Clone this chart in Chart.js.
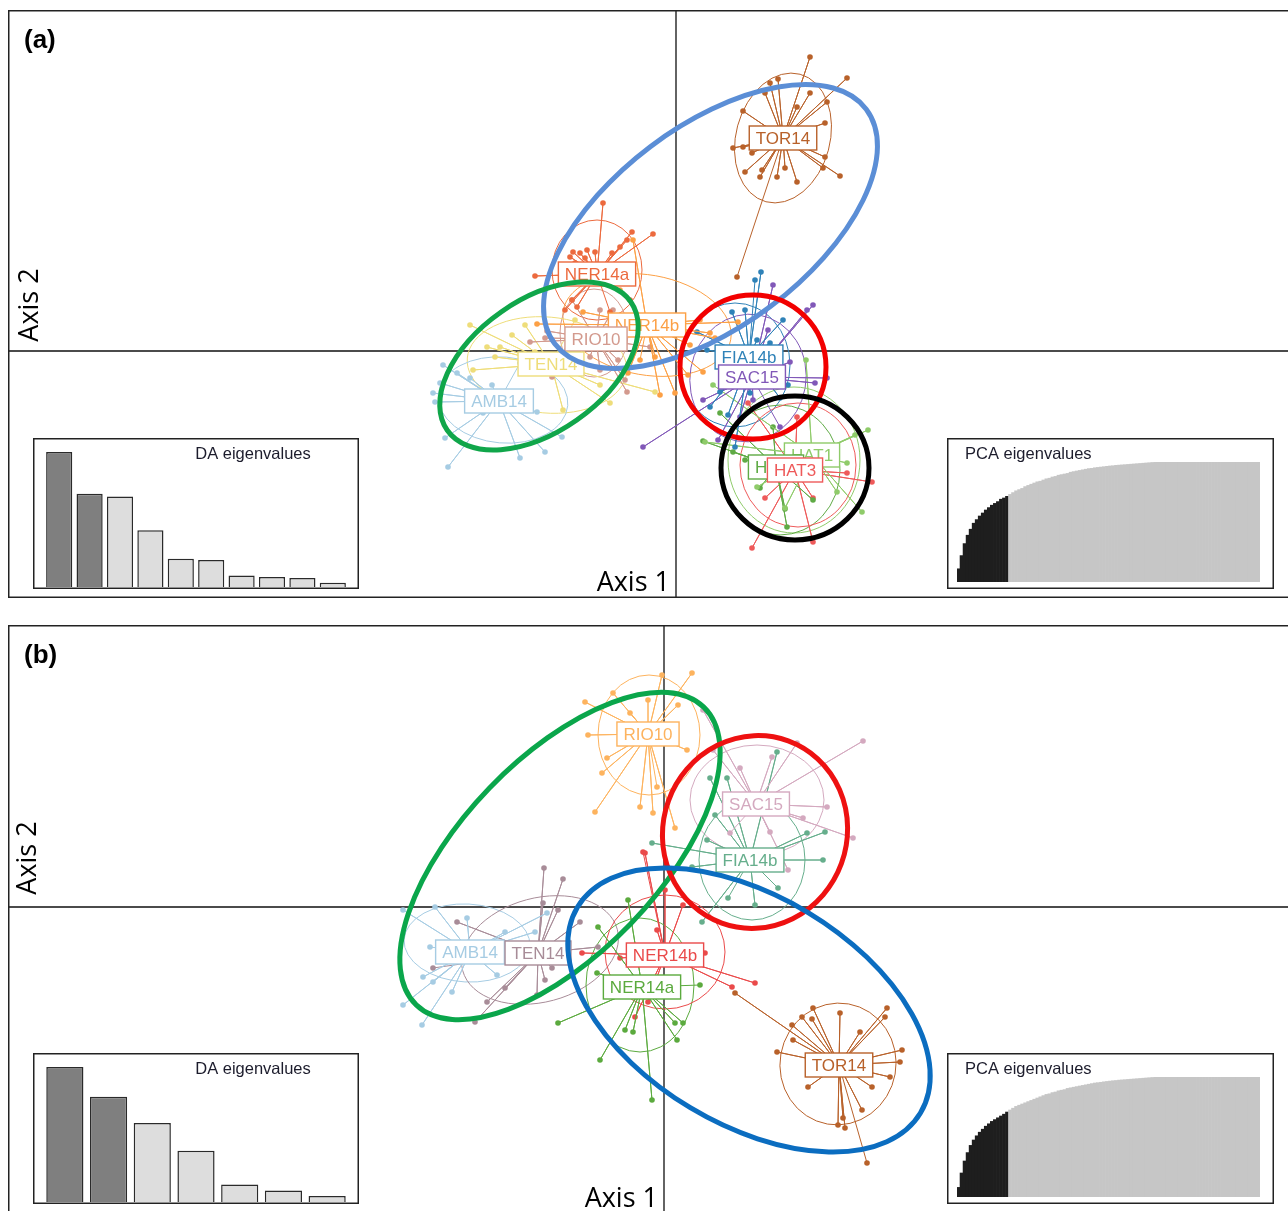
<!DOCTYPE html>
<html>
<head>
<meta charset="utf-8">
<script src="https://cdn.jsdelivr.net/npm/chart.js@4.4.1/dist/chart.umd.min.js"></script>
<style>
  html, body { margin: 0; padding: 0; background: #fff; }
  body { width: 1288px; height: 1211px; overflow: hidden; position: relative; }
  canvas { position: absolute; display: block; }
</style>
</head>
<body>
<canvas id="plotA" width="1282" height="588" style="left:8px;top:10px;width:1282px;height:588px"></canvas>
<canvas id="plotB" width="1282" height="588" style="left:8px;top:625px;width:1282px;height:588px"></canvas>
<canvas id="daA" width="326" height="151" style="left:33px;top:438px;width:326px;height:151px"></canvas>
<canvas id="pcaA" width="327" height="151" style="left:947px;top:438px;width:327px;height:151px"></canvas>
<canvas id="daB" width="326" height="151" style="left:33px;top:1053px;width:326px;height:151px"></canvas>
<canvas id="pcaB" width="327" height="151" style="left:947px;top:1053px;width:327px;height:151px"></canvas>
<script>
// ---------- panel (a) data ----------
const namesA = ['TOR14','NER14a','NER14b','RIO10','TEN14','AMB14','FIA14b','SAC15','HAT1','HAT2','HAT3'];
const colorsA = ['#B8612A','#EC6A3E','#FCA045','#D39A8E','#EEDD7A','#A6CCE3','#2F82B8','#8158B8','#8FCB6A','#5FAA45','#EE5A5A'];
const centroidsA = [[1.07,2.13],[-0.79,0.77],[-0.29,0.26],[-0.80,0.12],[-1.25,-0.13],[-1.77,-0.50],[0.73,-0.06],[0.76,-0.26],[1.36,-1.04],[1.00,-1.16],[1.19,-1.19]];
const a_TOR14 = [[1.34,2.94],[1.71,2.73],[1.02,2.72],[0.94,2.68],[0.89,2.58],[1.34,2.58],[1.51,2.49],[1.21,2.44],[0.67,2.40],[1.49,2.28],[0.57,2.03],[0.67,2.04],[0.76,1.98],[1.49,1.94],[1.47,1.83],[1.64,1.75],[0.86,1.81],[0.84,1.74],[1.01,1.74],[1.09,1.83],[1.21,1.69],[0.69,1.79],[0.61,0.74]];
const a_NER14a = [[-0.44,1.19],[-0.23,1.17],[-0.49,1.11],[-0.89,1.01],[-0.81,0.99],[-1.03,0.99],[-0.96,0.98],[-0.91,0.93],[-1.06,0.94],[-1.01,0.88],[-0.64,0.98],[-0.56,1.04],[-1.41,0.75],[-1.04,0.51],[-1.11,0.41],[-0.99,0.44],[-0.73,1.48],[-0.46,0.51],[-0.66,0.39]];
const a_NER14b = [[-0.43,1.11],[-1.39,0.27],[-0.01,-0.42],[-0.16,-0.44],[-0.48,-0.22],[-0.21,-0.06],[-0.93,0.39],[0.12,-0.24],[0.27,-0.21],[0.39,0.13],[0.62,0.29],[0.34,0.18],[0.14,0.06],[0.24,0.31],[-0.56,0.61],[-0.71,0.06],[-0.36,-0.09]];
const a_RIO10 = [[-1.29,0.20],[-1.46,0.09],[-1.31,0.13],[-1.24,-0.26],[-0.49,-0.41],[-0.51,-0.29],[-0.76,0.41],[-0.63,0.41],[-0.26,0.04],[-1.04,0.51],[-0.76,-0.19],[-0.86,-0.06],[-0.58,-0.09],[-1.09,0.01]];
const a_TEN14 = [[-2.06,0.26],[-1.89,0.04],[-1.76,0.04],[-1.51,0.26],[-1.64,0.16],[-2.03,-0.19],[-1.13,-0.59],[-0.66,-0.52],[-0.21,-0.41],[-0.76,-0.34],[-1.41,-0.01],[-1.81,-0.06],[-1.01,0.31]];
const a_AMB14 = [[-2.33,-0.14],[-2.43,-0.42],[-2.41,-0.51],[-2.36,-0.32],[-2.19,-0.22],[-2.06,-0.27],[-2.31,-0.87],[-2.28,-1.16],[-1.56,-1.07],[-1.31,-1.01],[-1.14,-0.86],[-1.39,-0.61],[-1.93,-0.62],[-1.84,-0.34],[-1.56,-0.12]];
const a_FIA14b = [[0.85,0.79],[0.69,0.41],[0.56,0.39],[0.21,0.19],[0.31,0.01],[0.34,-0.56],[0.44,-0.41],[1.12,-0.34],[0.81,0.11],[0.94,0.08],[1.07,0.31],[1.04,-0.47],[0.74,-0.42],[0.59,-0.96],[0.52,-0.64],[0.79,0.71]];
const a_SAC15 = [[0.97,0.66],[1.37,0.46],[1.31,0.41],[1.51,-0.27],[1.39,-0.32],[0.42,-0.89],[-0.33,-0.96],[0.92,0.21],[1.14,-0.11],[0.77,-0.49],[0.64,-0.66],[0.27,-0.49],[1.04,-0.76]];
const a_HAT1 = [[1.30,-0.09],[1.92,-0.79],[1.79,-0.84],[1.61,-1.41],[1.86,-1.61],[1.09,-1.57],[0.29,-0.91],[0.37,-0.34],[1.71,-1.12],[0.81,-1.36],[1.27,-0.96]];
const a_HAT2 = [[0.27,-0.90],[1.09,-1.58],[0.84,-1.37],[0.57,-1.01],[0.44,-0.62],[1.37,-1.49],[0.97,-0.76],[1.11,-1.76],[0.69,-1.09]];
const a_HAT3 = [[1.96,-1.31],[1.37,-1.91],[0.76,-1.97],[1.37,-1.47],[0.89,-1.47],[0.94,-1.26],[1.71,-1.22],[1.21,-0.66],[0.72,-0.52],[1.61,-1.02]];
const pointsA = [a_TOR14,a_NER14a,a_NER14b,a_RIO10,a_TEN14,a_AMB14,a_FIA14b,a_SAC15,a_HAT1,a_HAT2,a_HAT3];
// inertia ellipses: cx, cy, semi-axis a, semi-axis b, angle (deg)
const inertiaA = [[1.07,2.13,0.66,0.47,75],[-0.79,0.81,0.50,0.45,90],[-0.29,0.26,0.85,0.50,-10],[-0.82,0.18,0.44,0.34,90],[-1.29,-0.14,0.80,0.48,-5],[-1.73,-0.49,0.65,0.43,-5],[0.59,-0.14,0.62,0.55,90],[0.72,-0.27,0.64,0.58,80],[1.18,-1.09,0.73,0.66,90],[1.04,-1.19,0.65,0.60,90],[1.22,-1.14,0.62,0.58,90]];
// hand drawn group ellipses
const groupsA = [[0.345,1.245,1.95,1.0,37],[-1.37,-0.15,1.12,0.66,35],[0.77,-0.16,0.73,0.72,0],[1.19,-1.17,0.74,0.72,0]];
const groupColorsA = ['#5B8ED6','#10A64A','#F20000','#000000'];

// ---------- panel (b) data ----------
const namesB = ['AMB14','TEN14','NER14a','NER14b','RIO10','SAC15','FIA14b','TOR14'];
const colorsB = ['#A6CCE3','#A88C98','#5BAA3E','#EA4A4A','#FDB35E','#D4A9BF','#66AE8C','#B8612A'];
const centroidsB = [[-1.94,-0.45],[-1.26,-0.46],[-0.22,-0.80],[0.01,-0.48],[-0.16,1.73],[0.92,1.03],[0.86,0.47],[1.75,-1.58]];
const b_AMB14 = [[-2.61,-0.03],[-2.29,0.00],[-1.97,-0.11],[-2.61,-0.98],[-2.42,-1.18],[-2.41,-0.70],[-2.31,-0.75],[-2.12,-0.85],[-2.04,-0.53],[-1.67,-0.68],[-1.29,-0.25],[-1.17,-0.06],[-1.59,-0.25],[-2.34,-0.40]];
const b_TEN14 = [[-1.20,0.39],[-1.01,0.28],[-2.07,-0.15],[-1.21,0.04],[-1.06,-0.03],[-0.84,-0.15],[-0.66,-0.40],[-1.12,-0.61],[-1.19,-0.73],[-1.27,-0.88],[-1.77,-0.95],[-1.89,-1.15],[-1.59,-0.81],[-2.31,-0.61]];
const b_NER14a = [[-0.36,0.07],[-0.66,-0.20],[-1.06,-1.16],[-0.64,-1.53],[-0.39,-1.23],[-0.31,-1.25],[0.11,-1.16],[0.19,-1.16],[0.13,-1.33],[-0.67,-0.66],[-0.12,-1.93],[0.36,-0.78]];
const b_NER14b = [[-0.19,0.54],[0.01,0.17],[0.19,0.02],[-0.82,-0.46],[-0.44,-0.51],[0.68,-0.80],[-0.29,-1.10],[-0.16,-0.95],[0.41,-0.46],[-0.07,-0.23],[0.91,-0.76],[-0.21,0.55]];
const b_RIO10 = [[0.28,2.34],[-0.02,2.32],[-0.51,2.14],[-0.79,2.05],[-0.76,1.72],[-0.57,1.49],[-0.62,1.34],[-0.69,0.95],[-0.24,1.00],[-0.11,0.94],[0.11,0.79],[0.14,2.02],[0.23,1.57],[-0.16,2.07],[-0.34,1.94],[-0.07,1.20]];
const b_SAC15 = [[1.99,1.66],[1.33,1.64],[1.08,1.50],[1.63,1.00],[1.89,0.69],[1.24,0.37],[0.76,1.39],[0.39,1.97],[0.49,1.57],[1.39,0.89],[1.06,0.75],[0.66,0.74]];
const b_FIA14b = [[1.13,1.55],[0.63,1.29],[0.46,1.29],[-0.12,0.64],[0.28,0.40],[1.61,0.75],[1.59,0.47],[1.14,0.19],[0.91,0.02],[1.43,0.74],[0.51,0.92],[0.43,0.67],[0.38,-0.15],[0.64,0.09]];
const b_TOR14 = [[0.71,-0.86],[1.49,-1.01],[1.76,-1.06],[2.23,-1.01],[2.21,-1.10],[1.38,-1.10],[1.48,-1.12],[1.28,-1.18],[1.29,-1.33],[1.13,-1.45],[1.96,-1.25],[2.38,-1.43],[2.36,-1.55],[2.26,-1.70],[2.08,-1.80],[1.44,-1.80],[1.79,-2.11],[1.74,-2.18],[1.81,-2.21],[1.98,-2.03],[2.03,-2.56]];
const pointsB = [b_AMB14,b_TEN14,b_NER14a,b_NER14b,b_RIO10,b_SAC15,b_FIA14b,b_TOR14];
const inertiaB = [[-1.97,-0.36,0.63,0.39,-3],[-1.24,-0.43,0.80,0.52,15],[-0.24,-0.78,0.67,0.54,90],[0.01,-0.45,0.60,0.57,0],[-0.15,1.72,0.60,0.51,90],[0.93,1.07,0.67,0.55,0],[0.88,0.47,0.60,0.53,90],[1.74,-1.57,0.61,0.58,80]];
const groupsB = [[-1.04,0.51,2.07,0.98,46],[0.91,0.75,0.97,0.92,70],[0.85,-1.03,2.0,1.14,-31]];
const groupColorsB = ['#0AA64B','#EE1111','#0B6DC0'];

// ---------- eigenvalue insets ----------
const daEigA = [100,69,67,42,21,20,8.6,7.4,6.7,3.2];
const daKeptA = 2;
const daEigB = [100,78,58.5,38,13,8.6,4.4];
const daKeptB = 2;
const pcaCumA = [11,22,32,39,44,49,52,55,57.5,60,62,64,65.5,67,69,70,71.4,
  73,74.5,76,77,78,79.5,80.5,81.5,82.5,83.5,84,85,86,86.5,87.5,88,89,89.5,90,90.5,91.5,92,92.5,93,93.5,94,94.5,94.7,95.2,95.5,95.8,96.1,96.4,96.7,
  96.9,97.2,97.4,97.6,97.8,98,98.2,98.4,98.6,98.8,99,99.2,99.4,99.6,99.7,99.8,
  99.9,100,100,100,100,100,100,100,100,100,100,100,100,100,100,100,100,100,100,100,100,100,100,100,100,100,100,100,100,100,100,100,100];
const pcaKeptA = 17;
const pcaCumB = [8,20,30,37,43,47.5,51,54,56.5,59,61,63,64.5,66,67.5,69,70.8,
  72.5,74,75.5,76.5,77.5,78.5,79.5,80.5,81.5,82.5,83.5,84.5,85.5,86,87,87.5,88.5,89,89.5,90.5,91,91.5,92,92.5,93,93.5,94,94.5,95,95.3,95.6,96,96.3,96.6,
  96.9,97.1,97.4,97.6,97.8,98,98.2,98.4,98.6,98.8,99,99.2,99.4,99.6,99.8,99.9,
  100,100,100,100,100,100,100,100,100,100,100,100,100,100,100,100,100,100,100,100,100,100,100,100,100,100,100,100,100,100,100,100,100];
const pcaKeptB = 17;

const LABEL_FONT = '17px "Liberation Sans", Arial, sans-serif';

function drawEllipse(ctx, xs, ys, e, color, width) {
  const cx = xs.getPixelForValue(e[0]);
  const cy = ys.getPixelForValue(e[1]);
  const rx = Math.abs(xs.getPixelForValue(e[0] + e[2]) - cx);
  const ry = Math.abs(ys.getPixelForValue(e[1] + e[3]) - cy);
  ctx.beginPath();
  ctx.ellipse(cx, cy, rx, ry, -e[4] * Math.PI / 180, 0, Math.PI * 2);
  ctx.strokeStyle = color;
  ctx.lineWidth = width;
  ctx.stroke();
}

function makePanelPlugin(cfg) {
  return {
    id: 'panel' + cfg.tag,
    beforeDatasetsDraw(chart) {
      const {ctx, chartArea, scales: {x, y}} = chart;
      ctx.save();
      const x0 = x.getPixelForValue(0), y0 = y.getPixelForValue(0);
      ctx.strokeStyle = '#111';
      ctx.lineWidth = 1.3;
      ctx.beginPath();
      ctx.moveTo(x0, chartArea.top); ctx.lineTo(x0, chartArea.bottom);
      ctx.moveTo(chartArea.left, y0); ctx.lineTo(chartArea.right, y0);
      ctx.stroke();
      cfg.inertia.forEach((e, i) => drawEllipse(ctx, x, y, e, cfg.colors[i], 1));
      ctx.restore();
    },
    afterDatasetsDraw(chart) {
      const {ctx, chartArea, scales: {x, y}} = chart;
      ctx.save();
      // cluster labels
      ctx.font = LABEL_FONT;
      ctx.textAlign = 'center';
      ctx.textBaseline = 'middle';
      cfg.names.forEach((n, i) => {
        const px = x.getPixelForValue(cfg.centroids[i][0]);
        const py = y.getPixelForValue(cfg.centroids[i][1]);
        const w = ctx.measureText(n).width + 13;
        const h = 24;
        ctx.fillStyle = '#fff';
        ctx.fillRect(px - w / 2, py - h / 2, w, h);
        ctx.strokeStyle = cfg.colors[i];
        ctx.lineWidth = 1.4;
        ctx.strokeRect(px - w / 2, py - h / 2, w, h);
        ctx.fillStyle = cfg.colors[i];
        ctx.fillText(n, px, py + 1);
      });
      // group ellipses drawn on top
      cfg.groups.forEach((e, i) => drawEllipse(ctx, x, y, e, cfg.groupColors[i], 5));
      // texts
      ctx.fillStyle = '#000';
      ctx.font = 'bold 26px "Liberation Sans", Arial, sans-serif';
      ctx.textAlign = 'left';
      ctx.fillText(cfg.tag, 16, 31);
      ctx.font = '27px "Open Sans", sans-serif';
      ctx.textAlign = 'right';
      ctx.textBaseline = 'alphabetic';
      ctx.fillText('Axis 1', x.getPixelForValue(0) - 6, cfg.axis1Y);
      ctx.save();
      ctx.translate(cfg.axis2[0], cfg.axis2[1]);
      ctx.rotate(-Math.PI / 2);
      ctx.textAlign = 'center';
      ctx.textBaseline = 'middle';
      ctx.fillText('Axis 2', 0, 0);
      ctx.restore();
      // frame
      ctx.strokeStyle = '#222';
      ctx.lineWidth = 1.5;
      ctx.strokeRect(chartArea.left + 0.75, chartArea.top + 0.75, chartArea.right - chartArea.left - 1.5, chartArea.bottom - chartArea.top - 1.5);
      ctx.restore();
    }
  };
}

function starData(c, pts) {
  const out = [];
  pts.forEach(p => { out.push({x: c[0], y: c[1]}); out.push({x: p[0], y: p[1]}); });
  return out;
}

function buildPanel(id, cfg) {
  const datasets = cfg.names.map((n, i) => ({
    label: n,
    data: starData(cfg.centroids[i], cfg.points[i]),
    showLine: true,
    borderColor: cfg.colors[i],
    borderWidth: 1,
    pointBackgroundColor: cfg.colors[i],
    pointBorderWidth: 0,
    pointRadius: ctx => (ctx.dataIndex % 2 === 1 ? 2.8 : 0),
    tension: 0
  }));
  new Chart(document.getElementById(id), {
    type: 'scatter',
    data: {datasets},
    options: {
      responsive: false,
      animation: false,
      events: [],
      layout: {padding: 0, autoPadding: false},
      plugins: {legend: {display: false}, tooltip: {enabled: false}, title: {display: false}},
      scales: {
        x: {type: 'linear', display: false, min: cfg.xRange[0], max: cfg.xRange[1]},
        y: {type: 'linear', display: false, min: cfg.yRange[0], max: cfg.yRange[1]}
      }
    },
    plugins: [makePanelPlugin(cfg)]
  });
}

buildPanel('plotA', {
  tag: '(a)', names: namesA, colors: colorsA, centroids: centroidsA, points: pointsA,
  inertia: inertiaA, groups: groupsA, groupColors: groupColorsA,
  xRange: [-6.68, 6.14], yRange: [-2.47, 3.41], axis1Y: 581, axis2: [22, 295]
});
buildPanel('plotB', {
  tag: '(b)', names: namesB, colors: colorsB, centroids: centroidsB, points: pointsB,
  inertia: inertiaB, groups: groupsB, groupColors: groupColorsB,
  xRange: [-6.56, 6.26], yRange: [-3.06, 2.82], axis1Y: 582, axis2: [20, 233]
});

function insetPlugin(title, tx, align) {
  return {
    id: 'inset',
    beforeDraw(chart) {
      const {ctx, width, height} = chart;
      ctx.save();
      ctx.fillStyle = '#fff';
      ctx.fillRect(0, 0, width, height);
      ctx.restore();
    },
    afterDraw(chart) {
      const {ctx, width, height} = chart;
      ctx.save();
      ctx.font = '16.5px "Liberation Sans", Arial, sans-serif';
      ctx.fillStyle = '#1c1c2c';
      ctx.textAlign = align;
      ctx.textBaseline = 'middle';
      ctx.fillText(title, tx, 16);
      ctx.strokeStyle = '#222';
      ctx.lineWidth = 1.5;
      ctx.strokeRect(0.75, 0.75, width - 1.5, height - 1.5);
      ctx.restore();
    }
  };
}

function buildInset(id, values, kept, opts) {
  new Chart(document.getElementById(id), {
    type: 'bar',
    data: {
      labels: values.map((v, i) => String(i + 1)),
      datasets: [{
        data: values,
        backgroundColor: values.map((v, i) => (i < kept ? opts.dark : opts.light)),
        borderColor: opts.border,
        borderWidth: opts.borderWidth,
        barPercentage: opts.barPct,
        categoryPercentage: 1
      }]
    },
    options: {
      responsive: false,
      animation: false,
      events: [],
      layout: {padding: opts.padding, autoPadding: false},
      plugins: {legend: {display: false}, tooltip: {enabled: false}},
      scales: {
        x: {display: false},
        y: {display: false, min: 0, max: 100}
      }
    },
    plugins: [insetPlugin(opts.title, opts.tx, opts.align)]
  });
}

buildInset('daA', daEigA, daKeptA, {
  title: 'DA eigenvalues', tx: 220, align: 'center',
  dark: '#7F7F7F', light: '#DDDDDD', border: '#2a2a2a', borderWidth: 1.5, barPct: 0.86,
  padding: {left: 11, right: 11, top: 14, bottom: 2}
});
buildInset('daB', daEigB, daKeptB, {
  title: 'DA eigenvalues', tx: 220, align: 'center',
  dark: '#7F7F7F', light: '#DDDDDD', border: '#2a2a2a', borderWidth: 1.5, barPct: 0.85,
  padding: {left: 10, right: 10, top: 14, bottom: 2}
});
buildInset('pcaA', pcaCumA, pcaKeptA, {
  title: 'PCA eigenvalues', tx: 18, align: 'left',
  dark: '#1E1E1E', light: '#C6C6C6', border: 'rgba(0,0,0,0)', borderWidth: 0, barPct: 1,
  padding: {left: 10, right: 14, top: 24, bottom: 7}
});
buildInset('pcaB', pcaCumB, pcaKeptB, {
  title: 'PCA eigenvalues', tx: 18, align: 'left',
  dark: '#1E1E1E', light: '#C6C6C6', border: 'rgba(0,0,0,0)', borderWidth: 0, barPct: 1,
  padding: {left: 10, right: 14, top: 24, bottom: 7}
});
</script>
</body>
</html>
